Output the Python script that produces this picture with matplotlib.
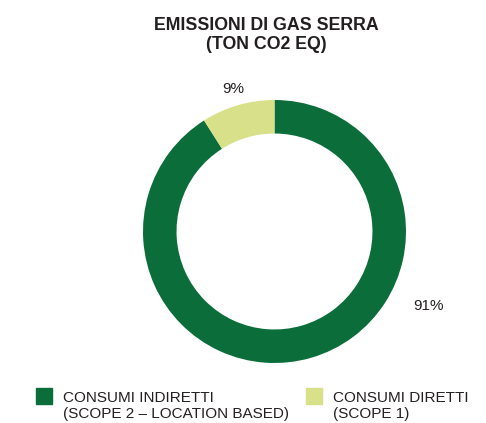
import numpy as np
import matplotlib.pyplot as plt
from matplotlib.patches import Rectangle

# dati
categorie = ['CONSUMI INDIRETTI\n(SCOPE 2 – LOCATION BASED)', 'CONSUMI DIRETTI\n(SCOPE 1)']
valori = [91, 9]
colori = ['#0a6d3a', '#d8e089']
titolo = 'EMISSIONI DI GAS SERRA\n(TON CO2 EQ)'

plt.rcParams['font.family'] = ['Liberation Sans', 'DejaVu Sans']
testo = '#231f20'

W, H = 486, 423
fig = plt.figure(figsize=(W / 100, H / 100), dpi=100)

# asse della ciambella (centro ~ 274,231 px, raggio ~131 px)
cx, cy, r = 274.5, 231.5, 131.5
ax = fig.add_axes([(cx - r) / W, (H - cy - r) / H, 2 * r / W, 2 * r / H])
ax.pie(valori, colors=colori, startangle=90, counterclock=False,
       radius=1, wedgeprops=dict(width=0.255, linewidth=0))
ax.set_xlim(-1, 1)
ax.set_ylim(-1, 1)
ax.set_aspect('equal')
ax.axis('off')

# etichette percentuali
totale = sum(valori)
angoli = [-26, 106]
distanze = [1.3, 1.13]
for v, a, d in zip(valori, angoli, distanze):
    t = np.deg2rad(a)
    ax.text(d * np.cos(t), d * np.sin(t), f'{round(v / totale * 100)}%',
            ha='center', va='center', fontsize=11, color=testo, clip_on=False)

# titolo
fig.text(266.5 / W, 1 - 35 / H, titolo, ha='center', va='center', fontsize=12.8,
         fontweight='bold', color=testo, linespacing=1.15)

# legenda
pos_x = [36, 306]
for cat, col, x in zip(categorie, colori, pos_x):
    fig.patches.append(Rectangle((x / W, 1 - 404 / H), 16 / W, 16 / H,
                                 transform=fig.transFigure, color=col))
    fig.text((x + 27) / W, 1 - 406 / H, cat, ha='left', va='center',
             fontsize=11, color=testo, linespacing=1.22)

fig.savefig('out.png', dpi=100)
